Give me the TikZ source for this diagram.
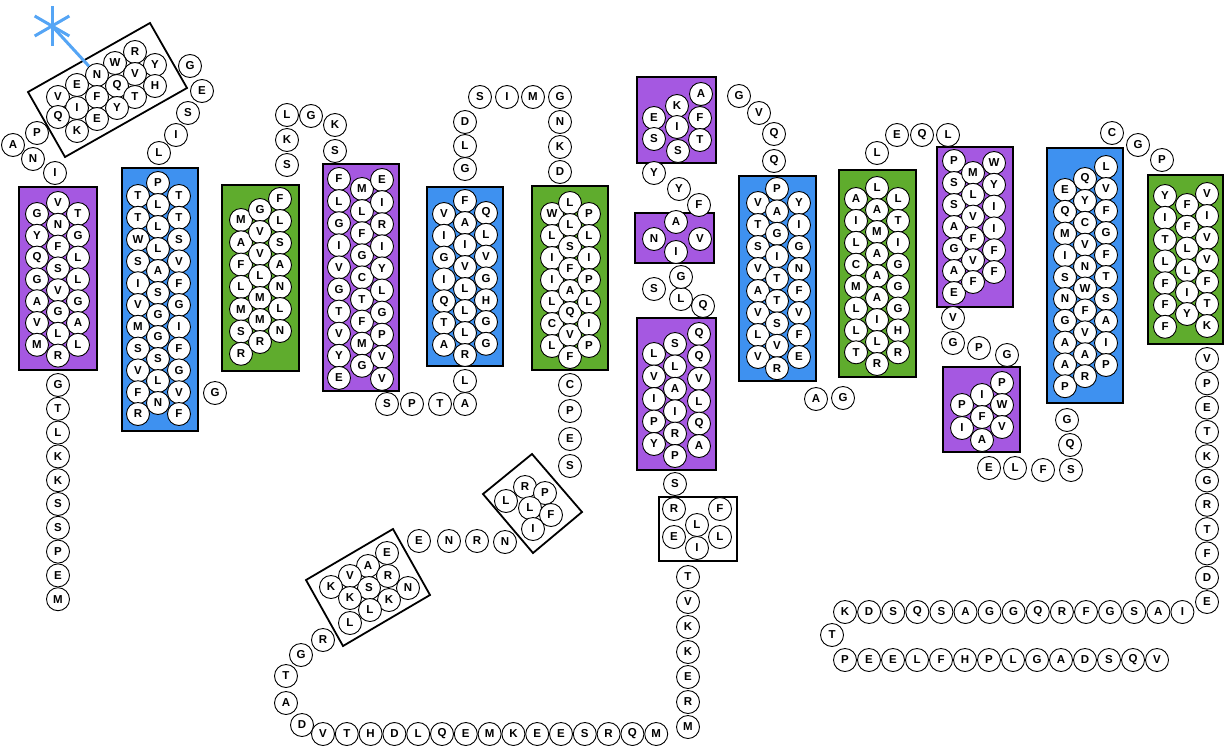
\documentclass[tikz,border=0pt]{standalone}
\usepackage{fontspec}
\setsansfont{Liberation Sans}
\definecolor{tmpurple}{RGB}{165,88,225}
\definecolor{tmblue}{RGB}{62,145,240}
\definecolor{tmgreen}{RGB}{95,172,45}
\definecolor{glyco}{RGB}{85,165,245}

\begin{document}
\begin{tikzpicture}[x=1pt, y=-1pt,
  res/.style={circle, draw, fill=white, line width=0.9pt, inner sep=0pt,
    minimum size=23pt, font=\sffamily\bfseries\fontsize{11.5}{11.5}\selectfont},
  tmbox/.style={draw, line width=1.8pt},
  glycan/.style={draw=glyco, line width=3pt}]
  \useasboundingbox (0,0) rectangle (1225,750);

  % Membrane segments
  \foreach \c/\a/\b in {tmpurple/{19,187}/{97,370}, tmblue/{122,168}/{198,431},
      tmgreen/{222,185}/{299,371}, tmpurple/{323,164}/{399,391},
      tmblue/{427,187}/{503,366}, tmgreen/{532,186}/{608,370},
      tmpurple/{637,77}/{716,163}, tmpurple/{635,213}/{714,263},
      tmpurple/{637,318}/{716,470}, tmblue/{739,176}/{816,381},
      tmgreen/{839,170}/{916,377}, tmpurple/{937,147}/{1013,307},
      tmpurple/{943,367}/{1020,452}, tmblue/{1047,148}/{1123,403},
      tmgreen/{1148,175}/{1223,344}}
    \draw[tmbox, fill=\c] (\a) rectangle (\b);

  % Helix residues, three columns per segment
  \foreach \nm/\x/\y/\dy/\seq in {
      h1a/37/214/21.8/{G,Y,Q,G,A,V,M}, h1b/58/203/21.8/{V,N,F,S,V,G,L,R},
      h1c/78/214/21.8/{T,G,L,L,G,A,L},
      h2a/138/196/21.8/{T,T,W,S,I,V,M,S,V,F,R}, h2b/158/183/22/{P,L,L,L,A,S,G,G,S,L,N},
      h2c/179/196/21.8/{T,T,S,V,F,G,I,F,G,V,F},
      h3a/241/220/22.3/{M,A,F,L,M,S,R}, h3b/260/210/22/{G,V,V,L,M,M,R},
      h3c/280/199/22/{F,L,S,A,N,L,N},
      h4a/339/179/22.1/{F,L,G,I,V,G,T,V,Y,E}, h4b/362/189/22.1/{M,L,F,G,C,T,F,M,G},
      h4c/382/180/22.1/{E,I,R,I,Y,L,G,P,V,V},
      h5a/444/214/21.8/{V,I,G,I,Q,T,A}, h5b/465/201/22/{F,A,I,V,L,L,L,R},
      h5c/486/213/21.8/{Q,L,V,G,H,G,G},
      h6a/552/214/22/{W,L,I,I,L,C,L}, h6b/570/203/22/{L,L,S,F,A,Q,V,F},
      h6c/589/214/22/{P,L,I,P,L,I,P},
      h7a/654/354/22.5/{L,V,I,P,Y}, h7b/675/344/22.4/{S,L,A,I,R,P},
      h7c/699/334/22.4/{Q,Q,V,L,Q,A},
      h8a/758/203/22/{V,T,S,V,A,V,L,V}, h8b/777/189/22.4/{P,A,G,I,T,T,S,V,R},
      h8c/799/203/22/{Y,I,G,N,F,V,F,E},
      h9a/856/199/21.9/{A,I,L,C,M,L,L,T}, h9b/877/188/22/{L,A,M,A,A,A,I,L,R},
      h9c/898/199/21.9/{L,T,I,G,G,G,H,R},
      h10a/954/161/22/{P,S,S,A,G,A,E}, h10b/973/173/21.8/{M,L,V,F,V,F},
      h10c/994/163/21.8/{W,Y,I,I,F,F},
      h12a/1065/190/21.8/{E,Q,M,I,S,N,G,A,A,P}, h12b/1085/179/21.9/{Q,Y,C,V,N,W,F,V,A,R},
      h12c/1106/167/22/{L,V,F,G,F,T,S,A,I,P},
      h13a/1165/196/21.8/{Y,I,T,L,F,F,F}, h13b/1187/205/21.8/{F,F,L,L,I,Y},
      h13c/1207/194/22/{V,I,V,V,F,T,K}}
    \foreach \ch [count=\i from 0] in \seq
      \node[res] (\nm-\i) at (\x, \y+\dy*\i) {\ch};

  % Short segments
  \foreach \x/\y/\ch [count=\i] in {701/94/A, 677/106/K, 654/118/E, 700/118/F,
      677/127/I, 654/139/S, 700/140/T, 678/151/S}
    \node[res] (s1-\i) at (\x,\y) {\ch};
  \foreach \x/\y/\ch [count=\i] in {676/222/A, 654/239/N, 700/239/V, 676/252/I}
    \node[res] (s2-\i) at (\x,\y) {\ch};
  \foreach \x/\y/\ch [count=\i] in {1002/383/P, 982/395/I, 1002/405/W, 962/405/P,
      982/417/F, 1002/427/V, 962/428/I, 982/440/A}
    \node[res] (s3-\i) at (\x,\y) {\ch};

  % N-terminal tail
  \foreach \ch [count=\i from 0] in {G,T,L,K,K,S,S,P,E,M}
    \node[res] (nt-\i) at (58, 385+23.8*\i) {\ch};

  % Glycosylated box
  \draw[tmbox] (28,92) -- (150,23) -- (187,88) -- (65,157) -- cycle;
  \foreach \x/\y/\ch [count=\i] in {135/52/R, 115/63/W, 155/65/Y, 97/75/N,
      135/74/V, 77/85/E, 117/86/Q, 155/86/H, 58/97/V, 97/97/F, 135/97/T,
      77/108/I, 117/108/Y, 58/117/Q, 97/119/E, 77/131/K}
    \node[res] (gb-\i) at (\x,\y) {\ch};
  \coordinate (glyc) at (52,26);
  \foreach \a in {30,90,150,210,270,330}
    \draw[glycan] (glyc) -- ++(\a:20);
  \draw[glycan] (glyc) -- (gb-4);

  % Loops
  \foreach \x/\y/\ch [count=\i] in {13/145/A, 37/133/P, 33/159/N, 55/173/I,
      190/66/G, 202/91/E, 188/113/S, 176/135/I, 159/153/L, 215/393/G,
      287/165/S, 287/140/K, 287/115/L, 311/116/G, 335/125/K, 335/151/S,
      387/404/S, 412/404/P, 440/404/T, 465/404/A, 465/381/L,
      465/169/G, 465/146/L, 465/122/D, 480/97/S, 507/97/I, 533/97/M,
      560/97/G, 560/122/N, 560/147/K, 560/172/D,
      570/385/C, 570/411/P, 570/439/E, 570/466/S}
    \node[res] (lp-\i) at (\x,\y) {\ch};

  % Intracellular loop with boxed stretches
  \draw[tmbox] (532,454) -- (582,512) -- (533,553) -- (483,494) -- cycle;
  \foreach \x/\y/\ch [count=\i] in {506/501/L, 525/487/R, 545/493/P,
      530/508/L, 551/515/F, 533/529/I}
    \node[res] (ib1-\i) at (\x,\y) {\ch};
  \foreach \x/\y/\ch [count=\i] in {505/542/N, 477/541/R, 449/541/N, 419/541/E}
    \node[res] (il1-\i) at (\x,\y) {\ch};
  \draw[tmbox] (393,529) -- (430,595) -- (343,646) -- (306,580) -- cycle;
  \foreach \x/\y/\ch [count=\i] in {387/553/E, 368/566/A, 388/576/R, 350/576/V,
      331/587/K, 369/588/S, 408/588/N, 350/598/K, 389/600/K, 370/610/L, 350/623/L}
    \node[res] (ib2-\i) at (\x,\y) {\ch};
  \foreach \x/\y/\ch [count=\i] in {323/640/R, 301/655/G, 286/676/T, 286/703/A, 302/725/D}
    \node[res] (il2-\i) at (\x,\y) {\ch};
  \foreach \ch [count=\i from 0] in {V,T,H,D,L,Q,E,M,K,E,E,S,R,Q,M}
    \node[res] (il3-\i) at (323+23.8*\i, 734) {\ch};
  \foreach \ch [count=\i from 0] in {M,R,E,K,K,V,T}
    \node[res] (il4-\i) at (688, 727-25*\i) {\ch};
  \draw[tmbox] (659,497) rectangle (737,561);
  \foreach \x/\y/\ch [count=\i] in {674/509/R, 720/509/F, 697/525/L,
      674/537/E, 720/537/L, 697/548/I, 675/484/S}
    \node[res] (ib3-\i) at (\x,\y) {\ch};

  % Loops around the short segments
  \foreach \x/\y/\ch [count=\i] in {703/306/Q, 681/299/L, 654/289/S, 681/277/G,
      699/205/F, 679/189/Y, 654/173/Y, 739/96/G, 759/113/V, 774/134/Q, 774/161/Q,
      816/399/A, 843/398/G, 877/153/L, 897/135/E, 922/135/Q, 948/135/L,
      953/318/V, 953/343/G, 979/348/P, 1007/355/G,
      989/468/E, 1015/468/L, 1043/470/F, 1071/470/S, 1070/445/Q, 1067/420/G,
      1112/133/C, 1138/145/G, 1162/160/P}
    \node[res] (lq-\i) at (\x,\y) {\ch};

  % C-terminal tail
  \foreach \ch [count=\i from 0] in {V,P,E,T,K,G,R,T,F,D,E}
    \node[res] (ct1-\i) at (1207, 359+24.3*\i) {\ch};
  \foreach \ch [count=\i from 0] in {K,D,S,Q,S,A,G,G,Q,R,F,G,S,A,I}
    \node[res] (ct2-\i) at (845+24.1*\i, 612) {\ch};
  \node[res] (ct3) at (832,635) {T};
  \foreach \ch [count=\i from 0] in {P,E,E,L,F,H,P,L,G,A,D,S,Q,V}
    \node[res] (ct4-\i) at (845+24*\i, 660) {\ch};
\end{tikzpicture}
\end{document}
